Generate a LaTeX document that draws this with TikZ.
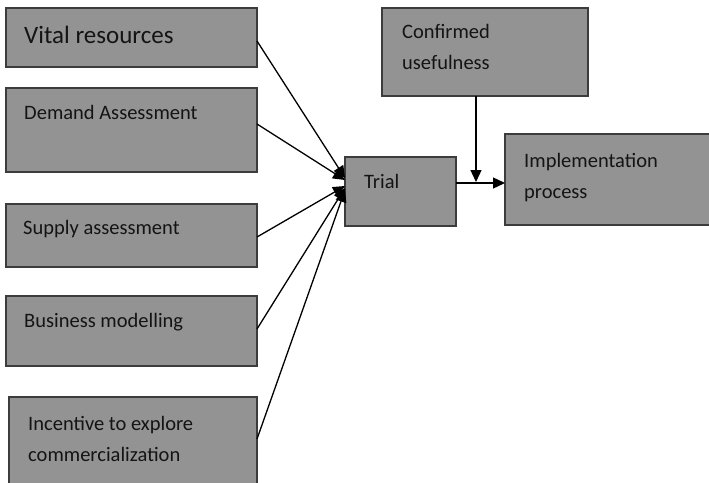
\documentclass[tikz,border=0pt]{standalone}
\usepackage{fontspec}
\setmainfont{Carlito}
\usetikzlibrary{arrows.meta,calc}
\definecolor{boxfill}{RGB}{147,147,147}
\definecolor{boxline}{RGB}{60,60,60}
\definecolor{txtcol}{RGB}{20,20,20}
\newcommand\twolines[2]{\begin{tabular}[t]{@{}l@{}}#1\\#2\end{tabular}}
\tikzset{
  box/.style={draw=boxline, fill=boxfill, line width=1.3pt, inner sep=0pt, outer sep=0pt, anchor=north west},
  txt/.style={anchor=base west, inner sep=0pt, text=txtcol, font=\fontsize{20.5}{31}\selectfont},
  bigtxt/.style={txt, font=\fontsize{25}{30}\selectfont},
  conn/.style={line width=1.3pt, black, -{Triangle[length=12pt,width=11pt]}},
}
\begin{document}
\begin{tikzpicture}[x=1pt,y=-1pt]
\clip (0,0) rectangle (709,482);
\fill[white] (0,0) rectangle (709,482);
% boxes
\node[box, minimum width=251pt, minimum height=59pt] (vital) at (6,8) {};
\node[box, minimum width=251pt, minimum height=84pt] (demand) at (6,88) {};
\node[box, minimum width=251pt, minimum height=63pt] (supply) at (6,204) {};
\node[box, minimum width=251pt, minimum height=70pt] (business) at (6,296) {};
\node[box, minimum width=248pt, minimum height=95pt] (incentive) at (9,397) {};
\node[box, minimum width=206pt, minimum height=88pt] (confirmed) at (382,8) {};
\node[box, minimum width=111pt, minimum height=69pt] (trial) at (345,157) {};
\node[box, minimum width=215pt, minimum height=91pt] (impl) at (505,134) {};
% texts
\node[bigtxt] (lvital) at (24,43) {Vital resources};
\node[txt] (ldemand) at (24,119) {Demand Assessment};
\node[txt] (lsupply) at (23,234) {Supply assessment};
\node[txt] (lbusiness) at (24,327) {Business modelling};
\node[txt] (lincentive) at (28,430) {\twolines{Incentive to explore}{commercialization}};
\node[txt] (lconfirmed) at (402,38) {\twolines{Confirmed}{usefulness}};
\node[txt] (ltrial) at (364,188) {Trial};
\node[txt] (limpl) at (524,167) {\twolines{Implementation}{process}};
% connectors
\draw[conn] ($(vital.north east)+(0,33)$) -- ($(trial.north west)+(0,21)$);
\draw[conn] ($(demand.north east)+(0,36)$) -- ($(trial.north west)+(0,23)$);
\draw[conn] ($(supply.north east)+(0,33)$) -- ($(trial.north west)+(0,29)$);
\draw[conn] ($(business.north east)+(0,33)$) -- ($(trial.north west)+(0,31)$);
\draw[conn] ($(incentive.north east)+(0,42)$) -- ($(trial.north west)+(0,33)$);
\draw[conn] ($(trial.north east)+(0,26)$) -- ($(impl.north west)+(0,49)$);
\draw[conn] ($(confirmed.south)+(-9,0)$) -- ++(0,86);
\end{tikzpicture}
\end{document}
